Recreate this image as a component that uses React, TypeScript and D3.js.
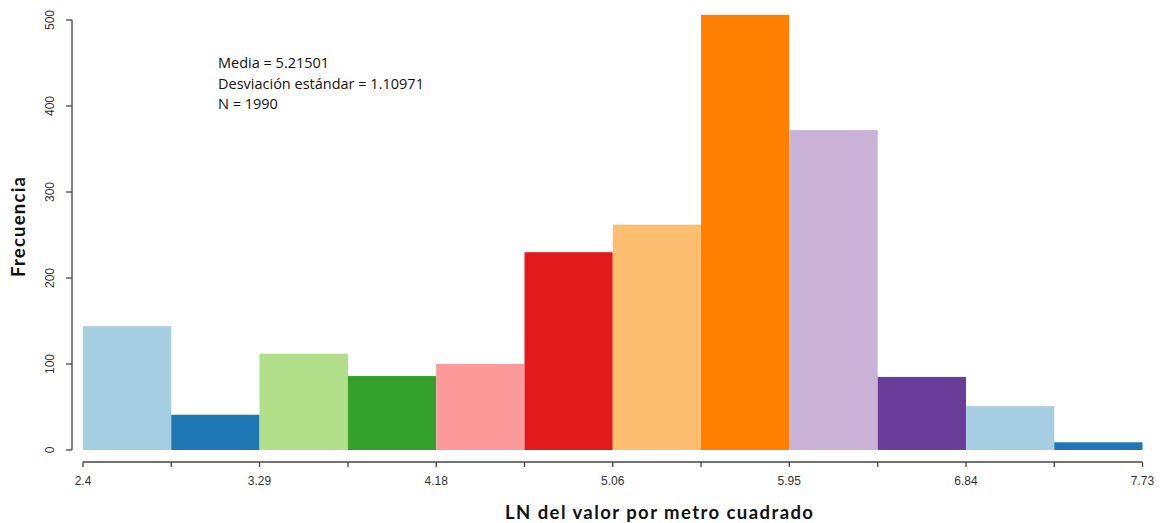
import React from "react";
import * as d3 from "d3";

const binEdges = [2.4, 2.844, 3.288, 3.733, 4.177, 4.621, 5.065, 5.509, 5.953, 6.398, 6.842, 7.286, 7.73];
const counts = [144, 41, 112, 86, 100, 230, 262, 506, 372, 85, 51, 9];
const barColors = ["#a6cee3", "#1f78b4", "#b2df8a", "#33a02c", "#fb9a99", "#e31a1c", "#fdbf6f", "#ff7f00", "#cab2d6", "#6a3d9a", "#a6cee3", "#1f78b4"];
const xTickLabels = ["2.4", "3.29", "4.18", "5.06", "5.95", "6.84", "7.73"];
const yTicks = [0, 100, 200, 300, 400, 500];
const statsLines = ["Media = 5.21501", "Desviación estándar = 1.10971", "N = 1990"];

export default function App() {
  const W = 1160, H = 523;
  const x = d3.scaleLinear().domain([2.4, 7.73]).range([83, 1142.5]);
  const y = d3.scaleLinear().domain([0, 500]).range([450, 20]);
  const axisY = 462;
  const axisColor = "#444";
  const textColor = "#333";

  return (
    <svg width={W} height={H} style={{ position: "absolute", left: 0, top: 0, background: "#fff" }}>
      {counts.map((c, i) => (
        <rect
          key={i}
          x={x(binEdges[i])}
          y={y(c)}
          width={x(binEdges[i + 1]) - x(binEdges[i])}
          height={y(0) - y(c)}
          fill={barColors[i]}
        />
      ))}
      {/* y axis */}
      <line x1={72} x2={72} y1={y(0)} y2={y(500)} stroke={axisColor} strokeWidth={1.3} />
      {yTicks.map((t) => (
        <g key={t}>
          <line x1={66} x2={72} y1={y(t)} y2={y(t)} stroke={axisColor} strokeWidth={1.3} />
          <text
            transform={`translate(54,${y(t)}) rotate(-90)`}
            textAnchor="middle"
            fontFamily="Liberation Sans, Arial, sans-serif"
            fontSize={12}
            fill={textColor}
          >
            {t}
          </text>
        </g>
      ))}
      {/* x axis */}
      <line x1={x(binEdges[0])} x2={x(binEdges[binEdges.length - 1])} y1={axisY} y2={axisY} stroke={axisColor} strokeWidth={1.3} />
      {binEdges.map((b, i) => (
        <line key={i} x1={x(b)} x2={x(b)} y1={axisY} y2={axisY + 5} stroke={axisColor} strokeWidth={1.3} />
      ))}
      {xTickLabels.map((l, i) => (
        <text
          key={l}
          x={x(binEdges[i * 2])}
          y={485}
          textAnchor="middle"
          fontFamily="Liberation Sans, Arial, sans-serif"
          fontSize={12}
          fill={textColor}
        >
          {l}
        </text>
      ))}
      {/* axis titles */}
      <text
        x={505}
        y={519}
        textLength={308}
        lengthAdjust="spacing"
        fontFamily="Lato, 'DejaVu Sans', sans-serif"
        fontWeight="bold"
        fontSize={18.5}
        fill="#111"
      >
        LN del valor por metro cuadrado
      </text>
      <text
        transform={`translate(25,277) rotate(-90)`}
        textLength={100}
        lengthAdjust="spacing"
        fontFamily="Lato, 'DejaVu Sans', sans-serif"
        fontWeight="bold"
        fontSize={18.5}
        fill="#111"
      >
        Frecuencia
      </text>
      {/* stats annotation */}
      {statsLines.map((s, i) => (
        <text
          key={i}
          x={218}
          y={68 + i * 20.5}
          fontFamily="'Open Sans', sans-serif"
          fontSize={14.5}
          fill="#111"
        >
          {s}
        </text>
      ))}
    </svg>
  );
}
